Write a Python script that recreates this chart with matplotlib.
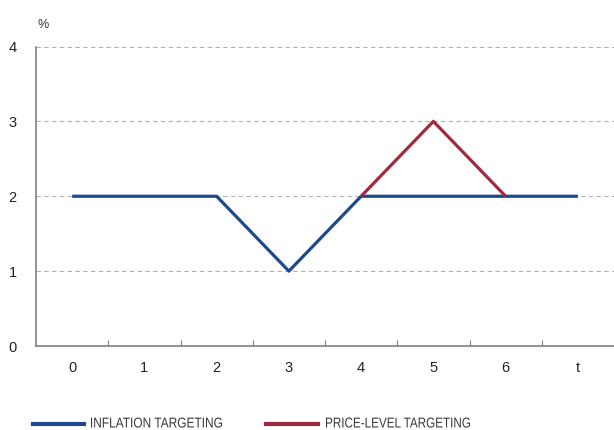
import matplotlib
matplotlib.use('Agg')
import matplotlib.pyplot as plt
import numpy as np
from matplotlib.textpath import TextPath
from matplotlib.patches import PathPatch
from matplotlib.font_manager import FontProperties
from matplotlib.transforms import Affine2D

categories = ['0', '1', '2', '3', '4', '5', '6', 't']
inflation_targeting = [2, 2, 2, 1, 2, 2, 2, 2]
price_level_targeting = [None, None, None, None, 2, 3, 2, None]
y_ticks = [0, 1, 2, 3, 4]
legend_labels = ['INFLATION TARGETING', 'PRICE-LEVEL TARGETING']

blue = '#1d4a8c'
red = '#a12a3e'
grey = '#808080'

plt.rcParams['font.family'] = ['Liberation Sans', 'DejaVu Sans']

W, H = 614, 430
fig = plt.figure(figsize=(W / 100, H / 100), dpi=100)
ax = fig.add_axes([36 / W, 1 - 346 / H, 1 - 36 / W, (346 - 46.5) / H])

x = np.arange(len(categories))
pl = np.array([np.nan if v is None else v for v in price_level_targeting], dtype=float)

ax.plot(x, inflation_targeting, color=blue, lw=2.3, solid_capstyle='butt', zorder=3)
ax.plot(x, pl, color=red, lw=2.3, solid_capstyle='butt', zorder=4)

ax.set_xlim(-0.5, len(categories) - 0.5)
ax.set_ylim(0, 4)
ax.set_yticks(y_ticks)
ax.set_yticklabels([str(v) for v in y_ticks], fontsize=10.5, color='#222222')
ax.set_xticks(x)
ax.set_xticklabels(categories, fontsize=10.5, color='#222222')
ax.tick_params(axis='x', length=0, pad=11)
ax.tick_params(axis='y', length=0, pad=14)
# tick marks between categories
ax.set_xticks(np.arange(0.5, len(categories) - 0.5), minor=True)
ax.tick_params(axis='x', which='minor', direction='in', length=4, color=grey, width=0.8)

for v in y_ticks[1:]:
    ax.axhline(v, color='#b0b0b0', lw=0.8, ls=(0, (4, 3)), zorder=1)

for s in ['top', 'right']:
    ax.spines[s].set_visible(False)
for s in ['left', 'bottom']:
    ax.spines[s].set_color(grey)
    ax.spines[s].set_linewidth(1.2)

fig.text(43 / W, 1 - 25 / H, '%', fontsize=9, color='#333333', ha='center', va='center')


def narrow_text(s, x0, yc, width, cap_px, color):
    # condensed legend text: squeeze a normal sans path sideways
    tp = TextPath((0, 0), s, size=100, prop=FontProperties(family='Liberation Sans'))
    ext = tp.get_extents()
    sx = width / ext.width
    sy = cap_px / ext.y1
    tr = Affine2D().translate(-ext.x0, 0).scale(sx, sy).translate(x0, (H - yc) - cap_px / 2)
    fig.add_artist(PathPatch(tp, transform=tr, facecolor=color, edgecolor='none'))


# legend
ly = 1 - 423.5 / H
fig.add_artist(plt.Line2D([33 / W, 84 / W], [ly, ly], color=blue, lw=3))
narrow_text(legend_labels[0], 91, 422.5, 131, 10, '#3a3a3a')
fig.add_artist(plt.Line2D([266 / W, 318 / W], [ly, ly], color=red, lw=3))
narrow_text(legend_labels[1], 326, 422.5, 144, 10, '#3a3a3a')

fig.savefig('out.png', dpi=100)
